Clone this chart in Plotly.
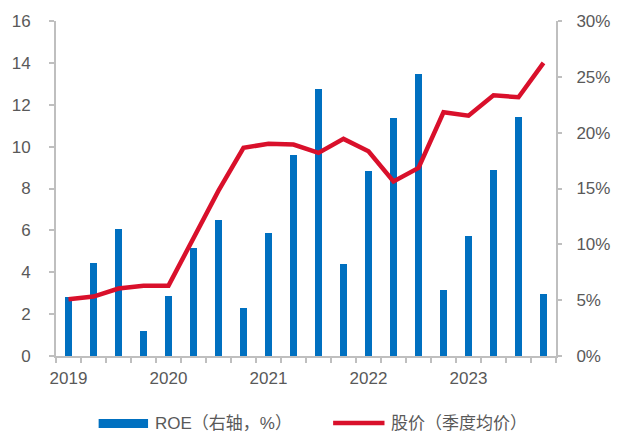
import plotly.graph_objects as go

# Quarterly series, 2019Q1 .. 2023Q4
quarters = [f"{y}Q{q}" for y in range(2019, 2024) for q in range(1, 5)]
roe_pct = [5.3, 8.3, 11.35, 2.25, 5.4, 9.65, 12.15, 4.3, 11.0, 18.0,
           23.9, 8.2, 16.6, 21.35, 25.25, 5.9, 10.75, 16.7, 21.4, 5.55]
price_avg = [2.71, 2.84, 3.22, 3.36, 3.36, 5.67, 7.9, 9.94, 10.14, 10.1,
             9.7, 10.37, 9.78, 8.34, 8.98, 11.64, 11.48, 12.45, 12.36, 14.0]
year_labels = ["2019", "2020", "2021", "2022", "2023"]
left_ticks = [0, 2, 4, 6, 8, 10, 12, 14, 16]
right_ticks = [0, 5, 10, 15, 20, 25, 30]

roe_name = "ROE（右轴，%）"
price_name = "股价（季度均价）"

BLUE = "#0070C0"
RED = "#D9102B"
AXIS = "#BFBFBF"
TEXT = "#595959"
FONT = "Liberation Sans, Arial, Noto Sans CJK SC"

idx = list(range(len(quarters)))

fig = go.Figure()
fig.add_trace(go.Bar(
    x=idx, y=roe_pct, name=roe_name, marker_color=BLUE,
    marker_line_width=0, width=0.31, yaxis="y", customdata=quarters,
    showlegend=False,
))
fig.add_trace(go.Scatter(
    x=idx, y=price_avg, name=price_name, mode="lines",
    line=dict(color=RED, width=4.5), yaxis="y2", customdata=quarters,
    showlegend=False,
))

L, R, T, B = 53, 53, 21, 76
W, H = 622, 432
pw, ph = W - L - R, H - T - B


def px_x(px):
    return (px - L) / pw


def px_y(py):
    return (H - B - py) / ph


def full_width(name):
    # keep full-width punctuation at its full advance
    return f"<span style='text-spacing-trim:space-all'>{name}</span>"


fig.update_layout(
    width=W, height=H,
    margin=dict(l=L, r=R, t=T, b=B, pad=0),
    paper_bgcolor="white", plot_bgcolor="white",
    font=dict(family=FONT, size=17, color=TEXT),
    bargap=0,
    xaxis=dict(
        range=[-0.5, len(quarters) - 0.5],
        tickmode="array",
        tickvals=[idx[quarters.index(y + "Q1")] for y in year_labels],
        ticktext=year_labels,
        ticks="", showgrid=False, zeroline=False,
        showline=True, linecolor=AXIS, linewidth=2,
        ticklabelstandoff=6,
        minor=dict(tick0=-0.5, dtick=1, ticks="outside", ticklen=5,
                   tickcolor=AXIS, tickwidth=2, showgrid=False),
    ),
    yaxis=dict(
        side="right", range=[0, 30], tickmode="array",
        tickvals=right_ticks, ticktext=[f"{v}%" for v in right_ticks],
        ticks="outside", ticklen=4, tickcolor=AXIS, tickwidth=2,
        showline=True, linecolor=AXIS, linewidth=2,
        showgrid=False, zeroline=False, ticklabelstandoff=11,
    ),
    yaxis2=dict(
        side="left", overlaying="y", range=[0, 16], tickmode="array",
        tickvals=left_ticks,
        ticks="outside", ticklen=5, tickcolor=AXIS, tickwidth=2,
        showline=True, linecolor=AXIS, linewidth=2,
        showgrid=False, zeroline=False, ticklabelstandoff=15,
    ),
    shapes=[
        dict(type="rect", xref="paper", yref="paper",
             x0=px_x(97), x1=px_x(148), y0=px_y(428), y1=px_y(419),
             fillcolor=BLUE, line_width=0),
        dict(type="line", xref="paper", yref="paper",
             x0=px_x(339), x1=px_x(392), y0=px_y(423), y1=px_y(423),
             line=dict(color=RED, width=4.5)),
    ],
    annotations=[
        dict(text=full_width(roe_name), xref="paper", yref="paper",
             x=px_x(153), y=px_y(423.5), xanchor="left", yanchor="middle",
             showarrow=False, font=dict(size=17, color=TEXT)),
        dict(text=full_width(price_name), xref="paper", yref="paper",
             x=px_x(397), y=px_y(423.5), xanchor="left", yanchor="middle",
             showarrow=False, font=dict(size=17, color=TEXT)),
    ],
)

fig.write_html("out.html")
